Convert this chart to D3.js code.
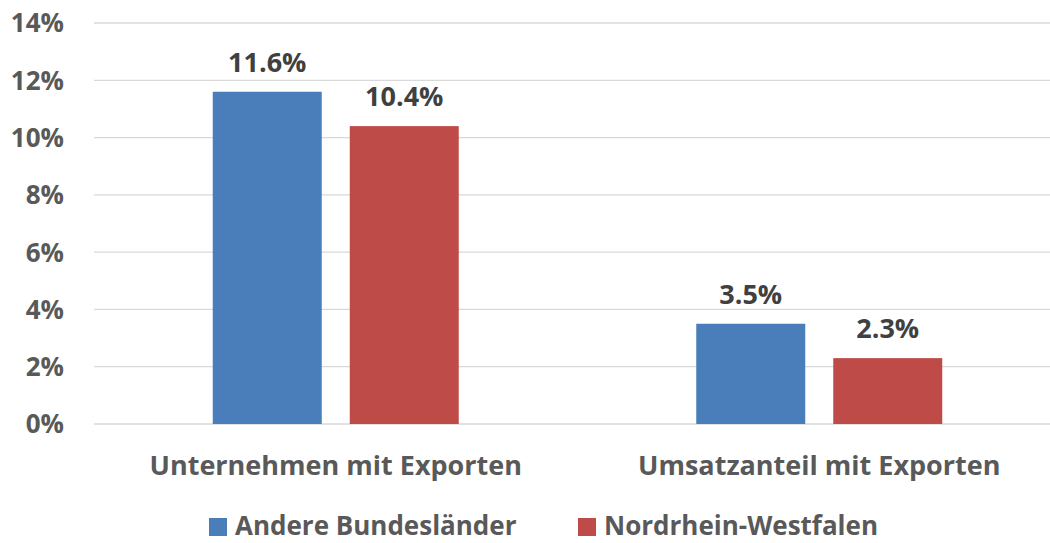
<!DOCTYPE html>
<html><head><meta charset="utf-8">
<script src="https://cdn.jsdelivr.net/npm/d3@7"></script>
<style>body{margin:0;background:#fff}svg{display:block}text{font-family:"Open Sans",sans-serif;font-weight:bold;fill:#595959}</style>
</head><body><svg id="c" width="1050" height="543"></svg>
<script>
const categories = ["Unternehmen mit Exporten", "Umsatzanteil mit Exporten"];
const seriesNames = ["Andere Bundesländer", "Nordrhein-Westfalen"];
const andere = [11.6, 3.5];
const nrw = [10.4, 2.3];
const yTicks = [0, 2, 4, 6, 8, 10, 12, 14];
const colors = ["#4a7ebb", "#be4b48"];

const svg = d3.select("#c");
const x0 = 94, x1 = 1061, yBase = 424, yTop = 23;
const x = d3.scaleBand().domain(categories).range([x0, x1]).paddingInner(0).paddingOuter(0);
const y = d3.scaleLinear().domain([0, 14]).range([yBase, yTop]);
const barW = 109, gap = 28;

svg.append("g").selectAll("line").data(yTicks).join("line")
  .attr("x1", x0).attr("x2", x1).attr("y1", d => y(d)).attr("y2", d => y(d))
  .attr("stroke", "#d9d9d9").attr("stroke-width", 1.3);

svg.append("g").selectAll("text").data(yTicks).join("text")
  .attr("x", 64).attr("y", d => y(d)).attr("dy", "0.36em").attr("text-anchor", "end")
  .attr("font-size", 26).text(d => d + "%");

const series = [andere, nrw];
series.forEach((vals, si) => {
  const g = svg.append("g");
  const bx = (c) => x(c) + x.bandwidth() / 2 - (barW + gap / 2) + si * (barW + gap);
  g.selectAll("rect").data(categories).join("rect")
    .attr("x", c => bx(c)).attr("width", barW)
    .attr("y", (c, i) => y(vals[i])).attr("height", (c, i) => yBase - y(vals[i]))
    .attr("fill", colors[si]);
  g.selectAll("text").data(categories).join("text")
    .attr("x", c => bx(c) + barW / 2).attr("y", (c, i) => y(vals[i]) - 20)
    .attr("text-anchor", "middle").attr("font-size", 27).style("fill", "#404040")
    .text((c, i) => vals[i].toFixed(1) + "%");
});

svg.append("g").selectAll("text").data(categories).join("text")
  .attr("x", c => x(c) + x.bandwidth() / 2).attr("y", 475)
  .attr("text-anchor", "middle").attr("font-size", 27).text(d => d);

const leg = svg.append("g");
const legX = [209, 578];
seriesNames.forEach((n, i) => {
  leg.append("rect").attr("x", legX[i]).attr("y", 518).attr("width", 18).attr("height", 18).attr("fill", colors[i]);
  leg.append("text").attr("x", legX[i] + 26).attr("y", 535).attr("font-size", 26).text(n);
});
</script></body></html>
